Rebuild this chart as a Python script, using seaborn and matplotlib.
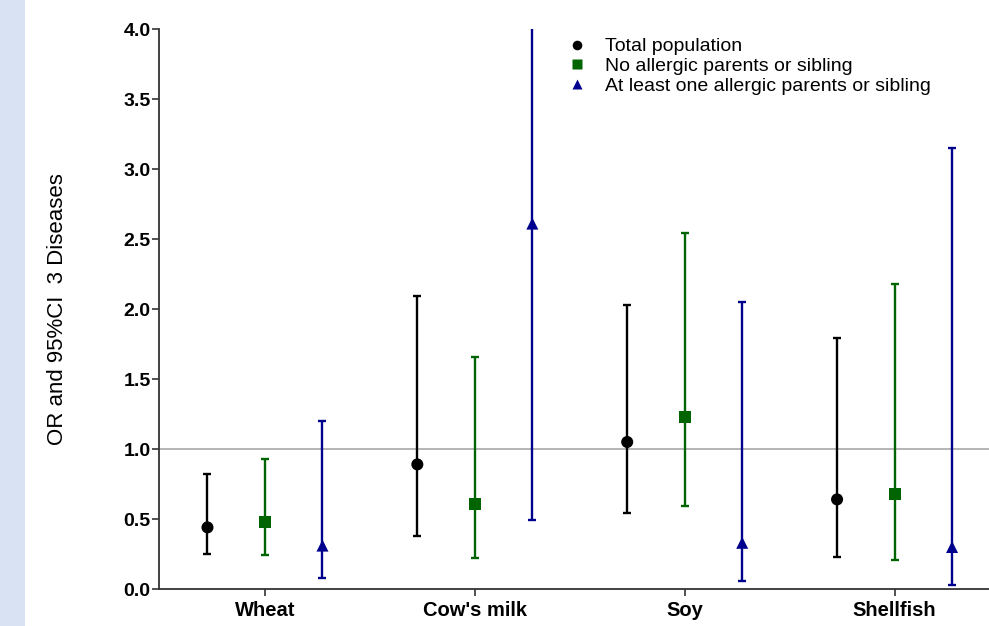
import numpy as np
import pandas as pd
import matplotlib.pyplot as plt
import matplotlib.patches as mpatches
import seaborn as sns

foods = ["Wheat", "Cow's milk", "Soy", "Shellfish"]
groups = ["Total population", "No allergic parents or sibling",
          "At least one allergic parents or sibling"]

# odds ratios with 95% CI bounds, one list per group
or_total = [0.44, 0.89, 1.05, 0.64]
lo_total = [0.25, 0.38, 0.54, 0.23]
hi_total = [0.82, 2.09, 2.03, 1.79]

or_noallergic = [0.48, 0.61, 1.23, 0.68]
lo_noallergic = [0.24, 0.22, 0.59, 0.21]
hi_noallergic = [0.93, 1.66, 2.54, 2.18]

or_allergic = [0.31, 2.61, 0.33, 0.30]
lo_allergic = [0.08, 0.49, 0.06, 0.03]
hi_allergic = [1.20, 4.40, 2.05, 3.15]

colors = ["#000000", "#006400", "#00008F"]
markers = ["o", "s", "^"]
offsets = [-0.274, 0.0, 0.274]

sns.set_style("ticks")
plt.rcParams["font.family"] = ["Liberation Sans", "DejaVu Sans"]
plt.rcParams["text.color"] = "black"
plt.rcParams["axes.labelcolor"] = "black"
plt.rcParams["xtick.color"] = "#333333"
plt.rcParams["ytick.color"] = "#333333"
plt.rcParams["xtick.labelcolor"] = "black"
plt.rcParams["ytick.labelcolor"] = "black"

rows = []
for g, ors, los, his in zip(groups,
                            [or_total, or_noallergic, or_allergic],
                            [lo_total, lo_noallergic, lo_allergic],
                            [hi_total, hi_noallergic, hi_allergic]):
    for i, f in enumerate(foods):
        rows.append({"food": f, "idx": i, "group": g,
                     "OR": ors[i], "lo": los[i], "hi": his[i]})
df = pd.DataFrame(rows)
df["pos"] = df["idx"] + df["group"].map(dict(zip(groups, offsets)))

fig = plt.figure(figsize=(9.89, 6.26), dpi=100)
fig.patches.append(mpatches.Rectangle((0, 0), 25 / 989, 1, transform=fig.transFigure,
                                      facecolor="#D9E2F3", edgecolor="none", zorder=0))
ax = fig.add_axes([159 / 989, 37 / 626, 830 / 989, 560 / 626])

ax.axhline(1.0, color="#A0A0A0", lw=1.1, zorder=1)

for g, c in zip(groups, colors):
    d = df[df["group"] == g]
    ax.errorbar(d["pos"], d["OR"], yerr=[d["OR"] - d["lo"], d["hi"] - d["OR"]],
                fmt="none", ecolor=c, elinewidth=1.7, capsize=3, capthick=1.7, zorder=2)

sns.scatterplot(data=df, x="pos", y="OR", hue="group", style="group",
                palette=dict(zip(groups, colors)), markers=dict(zip(groups, markers)),
                s=75, edgecolor="none", ax=ax, zorder=3)

ax.set_xlim(-0.505, 3.45)
ax.set_ylim(0, 4.0)
ax.set_xticks(range(len(foods)))
ax.set_xticklabels(foods, fontsize=14.5, fontweight="bold")
ax.set_yticks(np.arange(0, 4.01, 0.5))
ax.set_yticklabels([f"{v:.1f}" for v in np.arange(0, 4.01, 0.5)],
                   fontsize=14, fontweight="bold")
ax.set_xlabel("")
ax.set_ylabel("OR and 95%CI  3 Diseases", fontsize=16, labelpad=40)
ax.tick_params(axis="y", length=5, width=1.2, pad=1)
ax.tick_params(axis="x", length=5, width=1.2, pad=4)
sns.despine(ax=ax)
for s in ["left", "bottom"]:
    ax.spines[s].set_color("#333333")
    ax.spines[s].set_linewidth(1.3)

ax.legend(title=None, loc="upper left", bbox_to_anchor=(0.466, 1.005), frameon=False,
          fontsize=14, labelspacing=0.1, handletextpad=0.45, borderaxespad=0.2,
          markerscale=0.8)

fig.savefig("out.png", dpi=100)
